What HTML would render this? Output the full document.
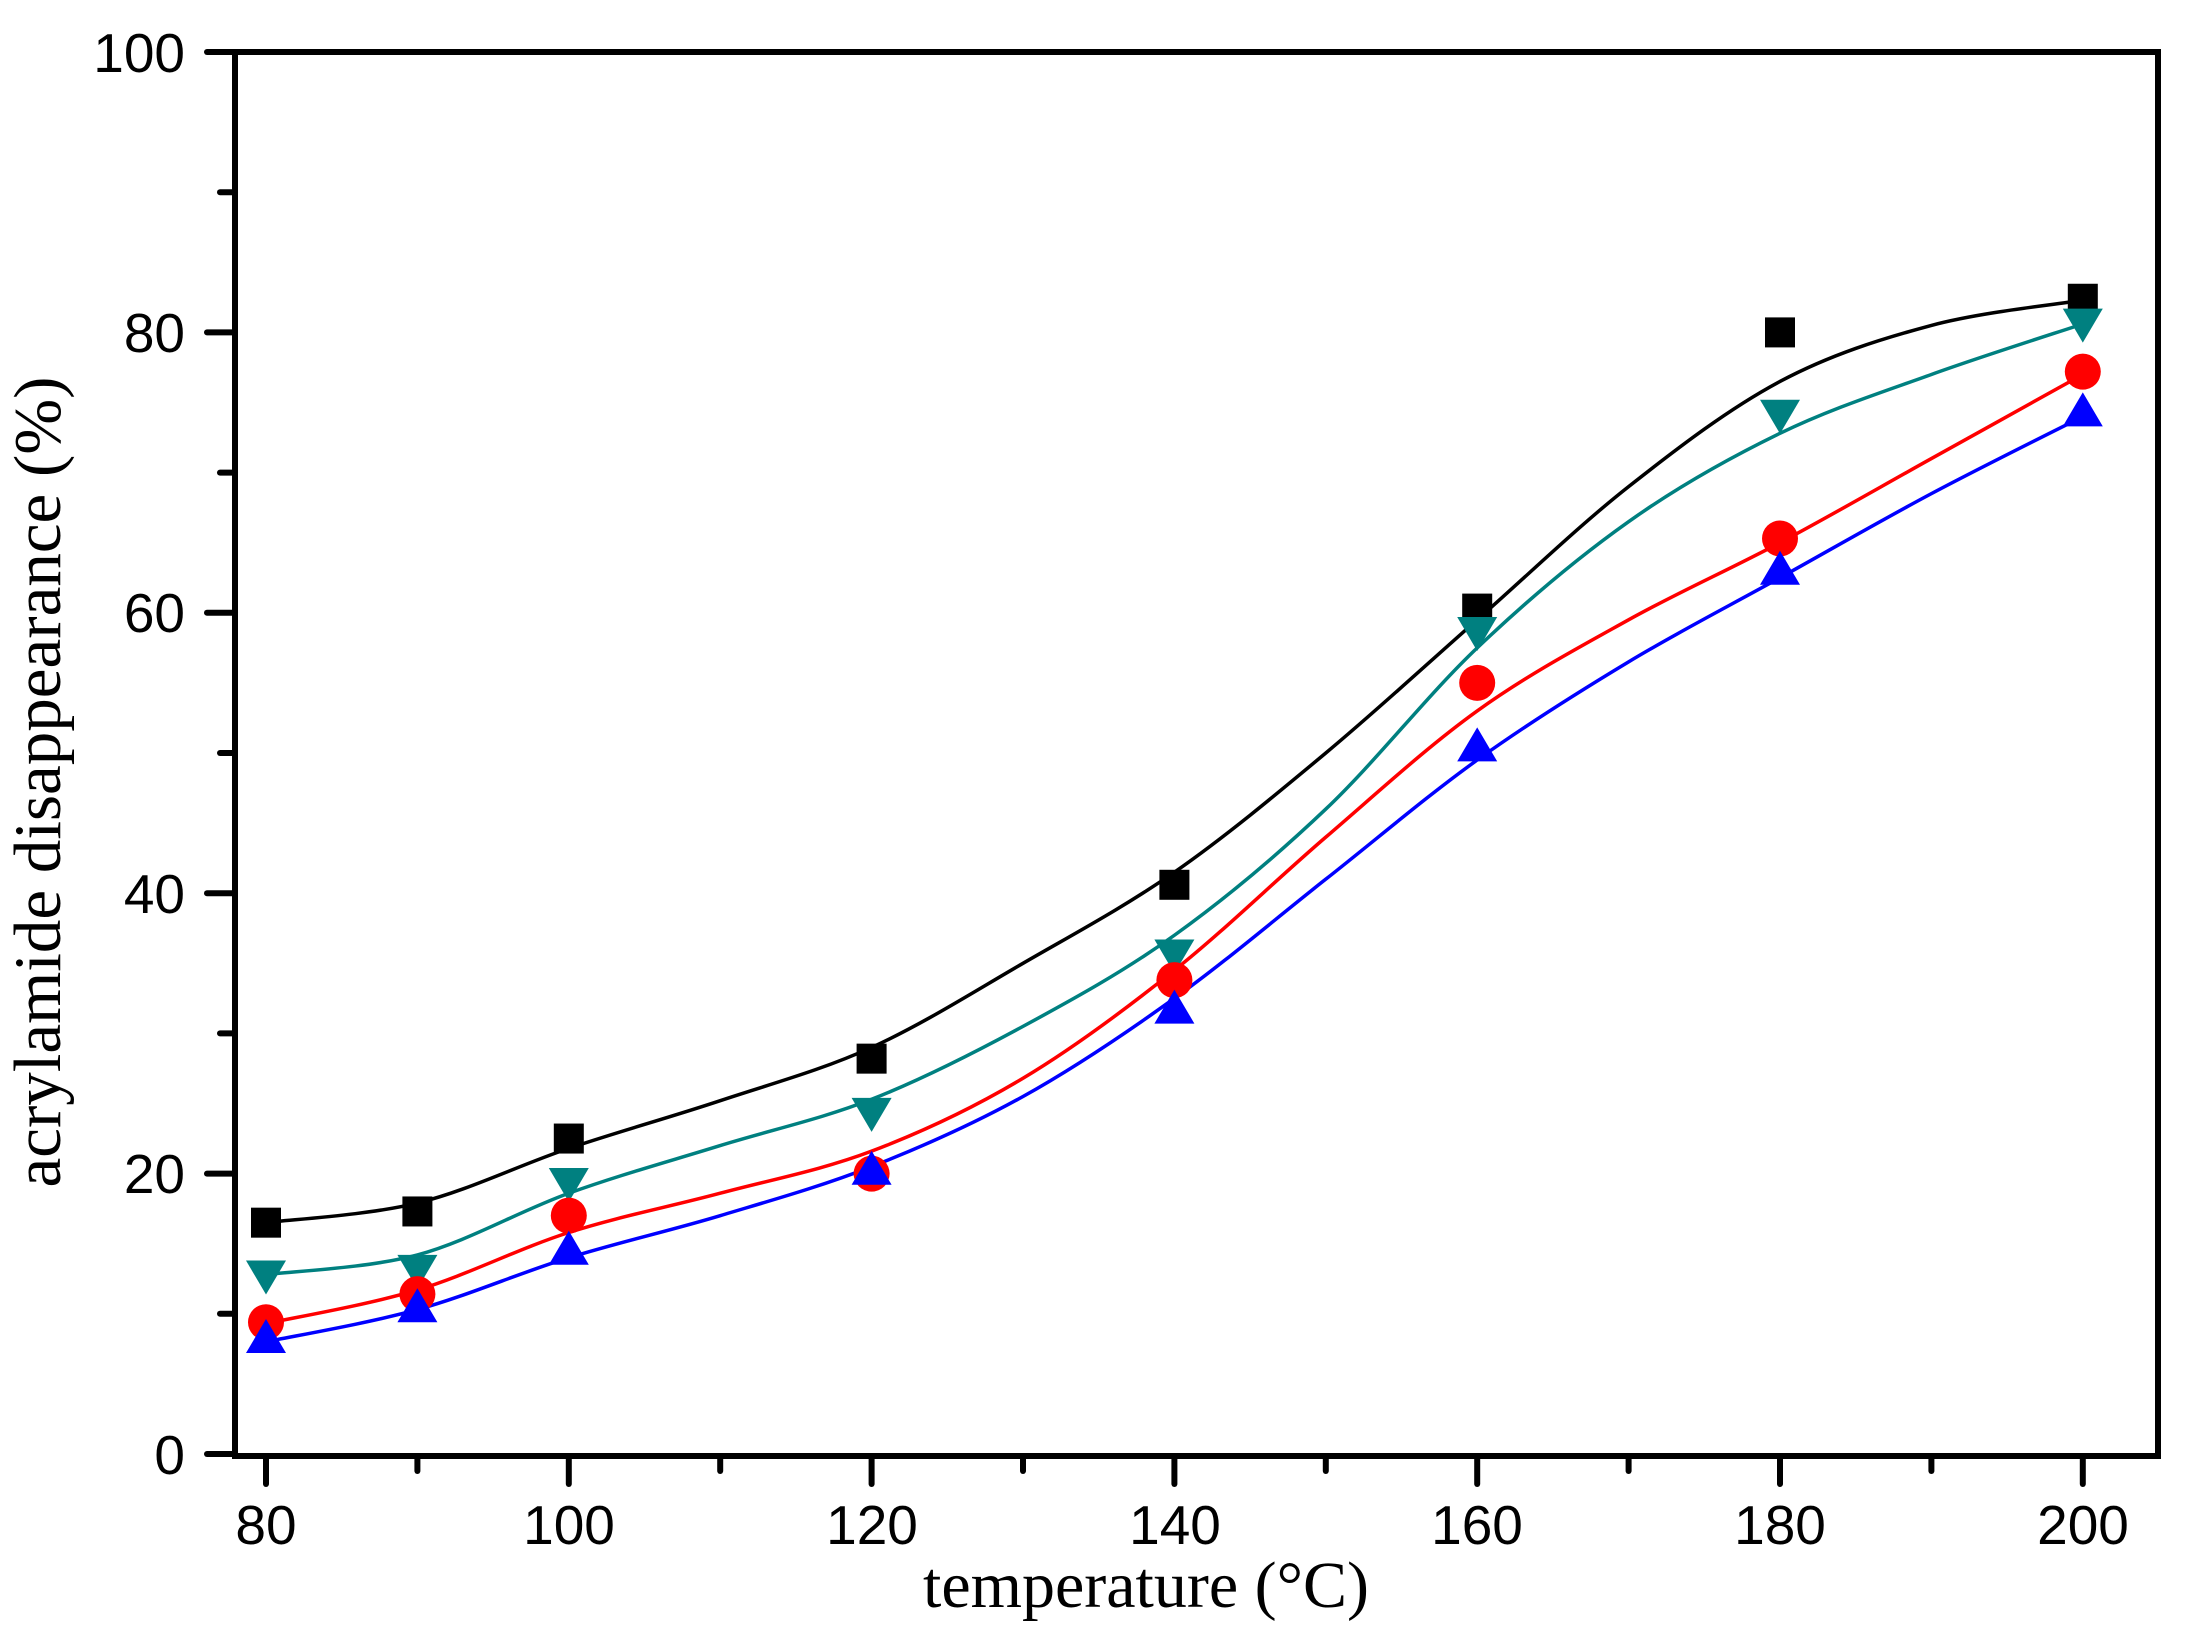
<!DOCTYPE html>
<html><head><meta charset="utf-8"><style>
html,body{margin:0;padding:0;background:#fff;}
svg{display:block;}
</style></head><body>
<svg id="s" width="2185" height="1645" xmlns="http://www.w3.org/2000/svg">
<g font-family="Liberation Sans, sans-serif" font-size="55" fill="#000">
<text x="185" y="72" text-anchor="end">100</text>
<text x="185" y="352" text-anchor="end">80</text>
<text x="185" y="632" text-anchor="end">60</text>
<text x="185" y="913" text-anchor="end">40</text>
<text x="185" y="1193" text-anchor="end">20</text>
<text x="185" y="1474" text-anchor="end">0</text>
<text x="266" y="1544" text-anchor="middle">80</text>
<text x="569" y="1544" text-anchor="middle">100</text>
<text x="872" y="1544" text-anchor="middle">120</text>
<text x="1175" y="1544" text-anchor="middle">140</text>
<text x="1477" y="1544" text-anchor="middle">160</text>
<text x="1780" y="1544" text-anchor="middle">180</text>
<text x="2083" y="1544" text-anchor="middle">200</text>
</g>
<g font-family="Liberation Serif, serif" font-size="66" fill="#000">
<text x="1146" y="1607" text-anchor="middle">temperature (°C)</text>
<text transform="translate(60,782) rotate(-90)" text-anchor="middle" font-size="67">acrylamide disappearance (%)</text>
</g>
<g id="ax" stroke="#000" stroke-width="6" fill="none" stroke-linecap="round">
<rect x="235" y="52" width="1923" height="1404"/>
</g>
<g id="curves" fill="none" stroke-width="3.5"></g>
<g id="marks"></g>
</svg>
<script>
const NS="http://www.w3.org/2000/svg";
const X=v=>266+(v-80)*15.14, Y=v=>1454-v*14.02;
const ax=document.getElementById('ax');
function ln(x1,y1,x2,y2){const l=document.createElementNS(NS,'line');l.setAttribute('x1',x1);l.setAttribute('y1',y1);l.setAttribute('x2',x2);l.setAttribute('y2',y2);ax.appendChild(l);}
for(let v=0;v<=100;v+=10){const y=Y(v);ln(235,y,v%20==0?207:220,y);}
for(let v=80;v<=200;v+=10){const x=X(v);ln(x,1456,x,v%20==0?1484:1471);}
const xs=[80,90,100,120,140,160,180,200];
const series=[
 {c:'#000000',m:'sq',d:[16.5,17.3,22.5,28.2,40.6,60.3,80,82.4],
  f:[16.5,17.9,21.8,25.2,29,35,41.5,50,59.5,69,76.5,80.5,82.3]},
 {c:'#008080',m:'dt',d:[12.8,13.2,19.4,24.4,35.7,58.7,74.2,80.7],
  f:[12.8,14.2,18.6,22,25.3,30.5,37,46,57.5,66.5,72.8,77,80.6]},
 {c:'#ff0000',m:'ci',d:[9.4,11.4,17,20,33.8,55,65.3,77.2],
  f:[9.3,11.7,15.8,18.6,21.6,26.8,34.5,44,53,59.5,65,71,77]},
 {c:'#0000ff',m:'ut',d:[8.2,10.4,14.5,20.2,31.7,50.4,63,74.3],
  f:[8,10.3,14,17,20.5,25.5,32.5,41,49.5,56.5,62.5,68.5,74]}
];
const cg=document.getElementById('curves'),mg=document.getElementById('marks');
series.forEach(s=>{
 const p=s.f.map((v,i)=>[X(80+i*10),Y(v)]);
 let d=`M${p[0][0]},${p[0][1]}`;
 for(let i=0;i<p.length-1;i++){
  const p0=p[Math.max(0,i-1)],p1=p[i],p2=p[i+1],p3=p[Math.min(p.length-1,i+2)];
  const c1=[p1[0]+(p2[0]-p0[0])/6,p1[1]+(p2[1]-p0[1])/6];
  const c2=[p2[0]-(p3[0]-p1[0])/6,p2[1]-(p3[1]-p1[1])/6];
  d+=` C${c1[0]},${c1[1]} ${c2[0]},${c2[1]} ${p2[0]},${p2[1]}`;
 }
 const path=document.createElementNS(NS,'path');path.setAttribute('d',d);path.setAttribute('stroke',s.c);cg.appendChild(path);
 s.d.forEach((v,i)=>{
  const x=X(xs[i]),y=Y(v);let e;
  if(s.m=='sq'){e=document.createElementNS(NS,'rect');e.setAttribute('x',x-15);e.setAttribute('y',y-15);e.setAttribute('width',30);e.setAttribute('height',30);}
  else if(s.m=='ci'){e=document.createElementNS(NS,'circle');e.setAttribute('cx',x);e.setAttribute('cy',y);e.setAttribute('r',18);}
  else if(s.m=='dt'){e=document.createElementNS(NS,'polygon');e.setAttribute('points',`${x-20},${y-14} ${x+20},${y-14} ${x},${y+20}`);}
  else {e=document.createElementNS(NS,'polygon');e.setAttribute('points',`${x-20},${y+14} ${x+20},${y+14} ${x},${y-20}`);}
  e.setAttribute('fill',s.c);mg.appendChild(e);
 });
});
</script>
</body></html>
